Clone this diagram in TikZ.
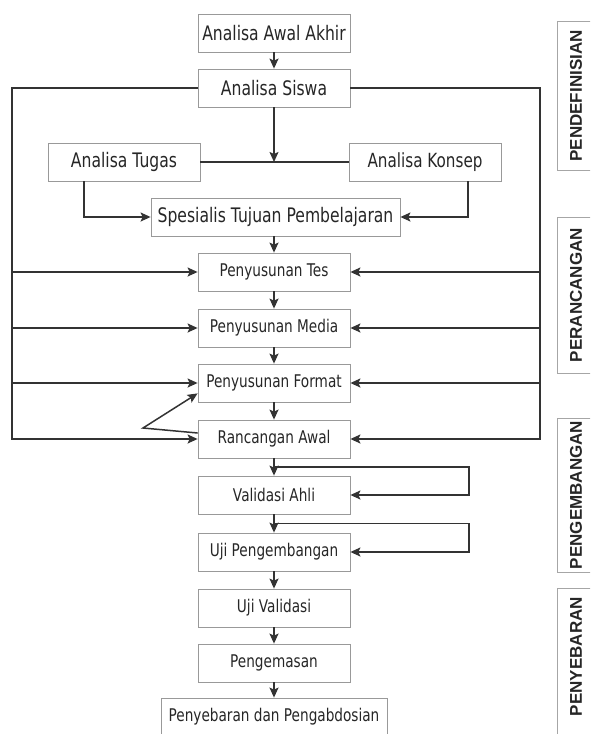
\documentclass[tikz,border=0pt]{standalone}
\usepackage{fontspec}
\newfontfamily\boxfont[FakeStretch=0.78]{DejaVu Sans}
\newfontfamily\phasefont{Liberation Sans}
\usetikzlibrary{arrows.meta,calc}

\tikzset{
    box/.style={draw=gray!80, line width=0.8pt, minimum width=152pt,
        minimum height=38pt, inner sep=0pt, text=black!85,
        font=\boxfont\fontsize{17.5}{20}\selectfont},
    bigbox/.style={box, font=\boxfont\fontsize{20}{24}\selectfont},
    ln/.style={line width=1.5pt, draw=black!80},
    arr/.style={ln, -{Stealth[length=10pt,width=9pt,inset=2pt]}},
    phase/.style={draw=gray!70, line width=0.8pt, rotate=90,
        minimum height=38pt, inner sep=0pt, text=black!85,
        font=\phasefont\bfseries\fontsize{17}{20}\selectfont}
}

\begin{document}
\begin{tikzpicture}[x=1pt, y=-1pt]
    \useasboundingbox (0,0) rectangle (590,734);
    \clip (0,0) rectangle (590,734);

    % pendefinisian
    \node[bigbox] (awal) at (274,33) {Analisa Awal Akhir};
    \node[bigbox] (siswa) at (274,88) {Analisa Siswa};
    \node[bigbox] (tugas) at (124,162) {Analisa Tugas};
    \node[bigbox, font=\boxfont\fontsize{19.5}{22}\selectfont] (konsep) at (425,162) {Analisa Konsep};
    \node[bigbox, minimum width=249pt] (tujuan) at (275.5,217) {Spesialis Tujuan Pembelajaran};

    % perancangan
    \node[box] (tes) at (274,272) {Penyusunan Tes};
    \node[box] (media) at (274,328) {Penyusunan Media};
    \node[box] (format) at (274,383) {Penyusunan Format};
    \node[box] (rancang) at (274,439) {Rancangan Awal};

    % pengembangan dan penyebaran
    \node[box] (validasi) at (274,495) {Validasi Ahli};
    \node[box] (ujikembang) at (274,552) {Uji Pengembangan};
    \node[box] (ujivalid) at (274,608) {Uji Validasi};
    \node[box] (kemas) at (274,663) {Pengemasan};
    \node[box, minimum width=226pt] (sebar) at (274,717) {Penyebaran dan Pengabdosian};

    % tahap
    \node[phase, minimum width=149pt] (pdefinisi) at (576,96) {PENDEFINISIAN};
    \node[phase, minimum width=156pt] (prancang) at (576,295) {PERANCANGAN};
    \node[phase, minimum width=154pt] (pkembang) at (576,495) {PENGEMBANGAN};
    \node[phase, minimum width=152pt, text width=134pt, align=right] (psebar) at (576,664) {PENYEBARAN};

    \coordinate (cabang) at (siswa.south |- tugas.east);
    \coordinate (kiri) at (12,0);
    \coordinate (kanan) at (540,0);
    \coordinate (balik) at (143,428);
    \coordinate (ulang) at (469,0);

    \draw[arr] (awal) -- (siswa);
    \draw[arr] (siswa) -- (cabang);
    \draw[ln] (tugas) -- (konsep);
    \draw[arr] ([xshift=-40pt]tugas.south) |- (tujuan.west);
    \draw[arr] ([xshift=43pt]konsep.south) |- (tujuan.east);
    \draw[arr] (tes.north |- tujuan.south) -- (tes);

    \foreach \a/\b in {tes/media, media/format, format/rancang, rancang/validasi,
        validasi/ujikembang, ujikembang/ujivalid, ujivalid/kemas, kemas/sebar}
        \draw[arr] (\a) -- (\b);

    \draw[arr] (siswa.west) -| (kiri |- rancang.west) -- (rancang.west);
    \draw[arr] (siswa.east) -| (kanan |- rancang.east) -- (rancang.east);
    \foreach \n in {tes, media, format} {
        \draw[arr] (kiri |- \n.west) -- (\n.west);
        \draw[arr] (kanan |- \n.east) -- (\n.east);
    }

    \draw[arr] ([yshift=6pt]rancang.west) -- (balik) -- ([yshift=9pt]format.south west);

    \draw[arr] ($(rancang.south)!.5!(validasi.north)$) -| (ulang |- validasi.east) -- (validasi.east);
    \draw[arr] ($(validasi.south)!.5!(ujikembang.north)$) -| (ulang |- ujikembang.east) -- (ujikembang.east);
\end{tikzpicture}
\end{document}
